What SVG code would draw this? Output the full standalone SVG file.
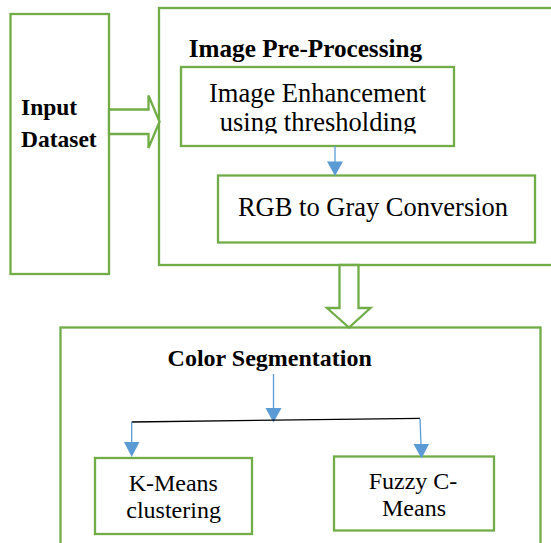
<svg xmlns="http://www.w3.org/2000/svg" width="551" height="543" viewBox="0 0 551 543">
<style>
.box{fill:none;stroke:#70AD47;stroke-width:2.3}
.harrow{fill:#fff;stroke:#70AD47;stroke-width:2.3;stroke-linejoin:miter}
.bl{stroke:#5B9BD5;stroke-width:1.3;fill:none}
.bh{fill:#5B9BD5;stroke:none}
.t{font-family:"Liberation Serif","Times New Roman",serif;fill:#000}
.r{font-size:26.5px}
.s{font-size:24px}
.b{font-weight:bold}
.m{text-anchor:middle}
</style>
<defs>
<clipPath id="clipEnh"><rect x="150" y="60" width="400" height="73.5"/></clipPath>
</defs>
<rect x="0" y="0" width="551" height="543" fill="#fff"/>
<g id="input-dataset">
<rect class="box" x="10.5" y="14" width="98.5" height="260"/>
<text class="t b" x="21" y="115" font-size="23.5">Input</text>
<text class="t b" x="21" y="146.7" font-size="23.5">Dataset</text>
</g>
<g id="image-preprocessing">
<rect class="box" x="159" y="8" width="420" height="257"/>
<text class="t b" x="188.7" y="57" font-size="25.2">Image Pre-Processing</text>
</g>
<g id="image-enhancement">
<rect class="box" x="181" y="67" width="273" height="79"/>
<g clip-path="url(#clipEnh)">
<text class="t r m" x="317.5" y="101.7">Image Enhancement</text>
<text class="t r m" x="318" y="130.7">using thresholding</text>
</g>
</g>
<g id="rgb-to-gray">
<rect class="box" x="218" y="175.5" width="317" height="67"/>
<text class="t r m" x="373" y="216">RGB to Gray Conversion</text>
</g>
<g id="color-segmentation">
<rect class="box" x="60.5" y="327.5" width="480" height="217"/>
<text class="t b s" x="167.6" y="366">Color Segmentation</text>
</g>
<g id="k-means">
<rect class="box" x="95" y="458" width="157" height="76"/>
<text class="t s m" x="173.3" y="490.7">K-Means</text>
<text class="t s m" x="173.6" y="517.5">clustering</text>
</g>
<g id="fuzzy-c-means">
<rect class="box" x="334" y="456.5" width="160" height="74"/>
<text class="t s m" x="413" y="489.3">Fuzzy C-</text>
<text class="t s m" x="414" y="515.5">Means</text>
</g>
<g id="connectors">
<polygon class="harrow" points="109,109.5 148.5,109.5 148.5,95.5 159.5,121.7 148.5,148 148.5,134 109,134"/>
<polygon class="harrow" points="339.5,265 339.5,308 327,308 349,327.5 370.5,308 358.5,308 358.5,265"/>
<line class="bl" x1="335" y1="146" x2="335" y2="163"/>
<polygon class="bh" points="327,161.5 343,161.5 335,176"/>
<line class="bl" x1="273.5" y1="374" x2="273.5" y2="409"/>
<polygon class="bh" points="265.5,408 281.5,408 273.5,422.5"/>
<line x1="131.7" y1="422" x2="420" y2="418.3" stroke="#000" stroke-width="1.3"/>
<line class="bl" x1="131.7" y1="422" x2="131.7" y2="443"/>
<polygon class="bh" points="124,442 139.5,442 131.7,457"/>
<line class="bl" x1="420" y1="418.5" x2="421" y2="445"/>
<polygon class="bh" points="413.5,444 429,444 421.5,458.5"/>
</g>
</svg>
